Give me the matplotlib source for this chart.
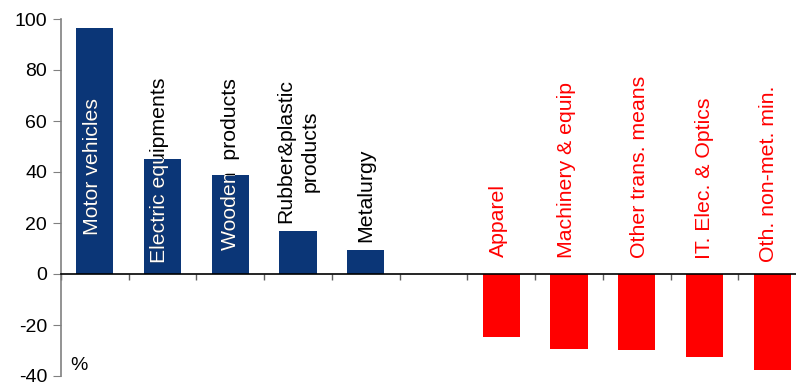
import matplotlib
matplotlib.use("Agg")
import matplotlib.pyplot as plt
from matplotlib.transforms import TransformedBbox
import numpy as np

plt.rcParams['font.family'] = ['Liberation Sans', 'DejaVu Sans']

categories = ["Motor vehicles", "Electric equipments", "Wooden  products",
              "Rubber&plastic\nproducts", "Metalurgy", "",
              "Apparel", "Machinery & equip", "Other trans. means",
              "IT. Elec. & Optics", "Oth. non-met. min."]
values = [96.3, 45.0, 38.8, 16.9, 9.4, np.nan, -24.6, -29.3, -29.7, -32.4, -37.5]
yticks = [-40, -20, 0, 20, 40, 60, 80, 100]

# layout: label anchor (data y) and horizontal nudge (category units)
label_y = [15.3, 4.3, 9.4, 20.0, 12.5, 0, 6.5, 6.2, 6.2, 5.8, 4.8]
label_dx = [-0.03, -0.05, 0.0, 0.0, 0.0, 0, -0.045, -0.03, 0.035, 0.0, -0.06]

BLUE = "#0B3677"
RED = "#FF0000"

fig = plt.figure(figsize=(7.96, 3.85), dpi=100)
ax = fig.add_axes([61/796, 9/385, (806-61)/796, (366-9)/385])

x = np.arange(len(categories))
colors = [BLUE if (v == v and v >= 0) else RED for v in values]
bars = ax.bar(x, np.nan_to_num(values), width=0.55, color=colors, zorder=2)

ax.set_xlim(-0.5, len(categories) - 0.5)
ax.set_ylim(-40, 100)
ax.set_yticks(yticks)
ax.set_yticklabels([str(t) for t in yticks], fontsize=14)
ax.tick_params(axis='y', direction='out', length=6, color='#808080', pad=4)
ax.set_xticks(np.arange(len(categories) + 1) - 0.5)
ax.set_xticklabels([])
ax.tick_params(axis='x', direction='out', length=4.5, color='#606060', width=1)

for s in ['top', 'right']:
    ax.spines[s].set_visible(False)
ax.spines['left'].set_color('#808080')
ax.spines['left'].set_linewidth(1.2)
ax.spines['bottom'].set_position(('data', 0))
ax.spines['bottom'].set_color('black')
ax.spines['bottom'].set_linewidth(1.2)

for i, (cat, v) in enumerate(zip(categories, values)):
    if not cat:
        continue
    tc = 'black' if v >= 0 else RED
    kw = dict(rotation=90, ha='left', va='center', fontsize=15.3,
              multialignment='center', rotation_mode='anchor', linespacing=1.4)
    xi = x[i] + label_dx[i]
    ax.text(xi, label_y[i], cat, color=tc, zorder=3, **kw)
    if v >= 0:
        t = ax.text(xi, label_y[i], cat, color='white', zorder=4, **kw)
        t.set_clip_box(TransformedBbox(bars[i].get_bbox(), ax.transData))
        t.set_clip_on(True)

ax.text(0.012, 0.03, "%", transform=ax.transAxes, fontsize=14, ha='left', va='center')

fig.savefig("out.png", dpi=100)
